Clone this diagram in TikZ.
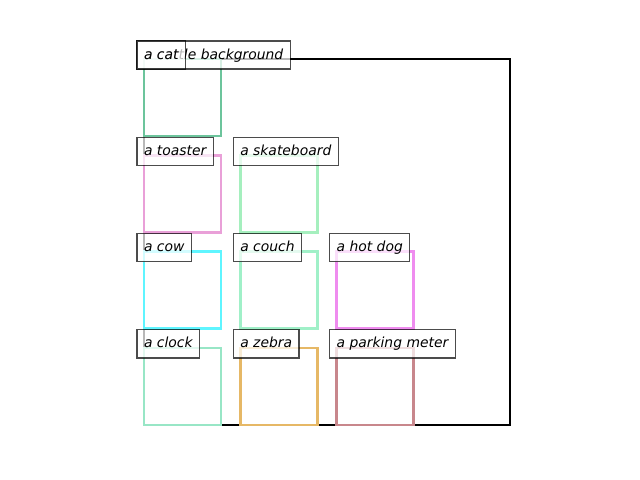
\documentclass[tikz,border=0pt]{standalone}
\usepackage{fontspec}
\newfontfamily\lblfont{DejaVu Sans}
\usetikzlibrary{positioning}
\definecolor{catc}{HTML}{6CC49C}
\definecolor{toasterc}{HTML}{E9A0D8}
\definecolor{skatec}{HTML}{A5EFBE}
\definecolor{cowc}{HTML}{5FF5FF}
\definecolor{couchc}{HTML}{A0F0C8}
\definecolor{hotdogc}{HTML}{EF8CEF}
\definecolor{clockc}{HTML}{98E6C6}
\definecolor{zebrac}{HTML}{E6B866}
\definecolor{meterc}{HTML}{C8878C}
\tikzset{
  bx/.style={draw=#1, line width=1.8pt, minimum width=55.5pt,
    minimum height=55.5pt, anchor=north west, inner sep=0pt, outer sep=0pt},
  lbl/.style={draw=black, draw opacity=0.7, line width=0.9pt, fill=white,
    fill opacity=0.72, text opacity=1, font=\lblfont\itshape\fontsize{10}{12}\selectfont,
    inner xsep=5pt, inner ysep=0pt, text height=13pt, text depth=7.2pt,
    outer sep=0pt, anchor=base west, xshift=-5pt}
}

\begin{document}
\begin{tikzpicture}[x=0.72pt,y=-0.72pt]
    \useasboundingbox (0,0) rectangle (640,480);
    % background frame
    \node (bg) [draw, line width=1.7pt, minimum width=263.5pt, minimum height=263.5pt,
      anchor=north west, inner sep=0pt, outer sep=0pt] at (144,59) {};
    % object boxes
    \node (cat) [bx=catc] at (144,59) {};
    \node (toaster) [bx=toasterc] at (144,155.3) {};
    \node (skate) [bx=skatec] at (240.3,155.3) {};
    \node (cow) [bx=cowc] at (144,251.6) {};
    \node (couch) [bx=couchc] at (240.3,251.6) {};
    \node (hotdog) [bx=hotdogc] at (336.6,251.6) {};
    \node (clock) [bx=clockc] at (144,347.9) {};
    \node (zebra) [bx=zebrac] at (240.3,347.9) {};
    \node (meter) [bx=meterc] at (336.6,347.9) {};
    % labels
    \node (bg-l) [lbl] at (bg.north west) {a cattle background};
    \node (cat-l) [lbl] at (cat.north west) {a cat};
    \node (toaster-l) [lbl] at (toaster.north west) {a toaster};
    \node (skate-l) [lbl] at (skate.north west) {a skateboard};
    \node (cow-l) [lbl] at (cow.north west) {a cow};
    \node (couch-l) [lbl] at (couch.north west) {a couch};
    \node (hotdog-l) [lbl] at (hotdog.north west) {a hot dog};
    \node (clock-l) [lbl] at (clock.north west) {a clock};
    \node (zebra-l) [lbl] at (zebra.north west) {a zebra};
    \node (meter-l) [lbl] at (meter.north west) {a parking meter};
\end{tikzpicture}
\end{document}
